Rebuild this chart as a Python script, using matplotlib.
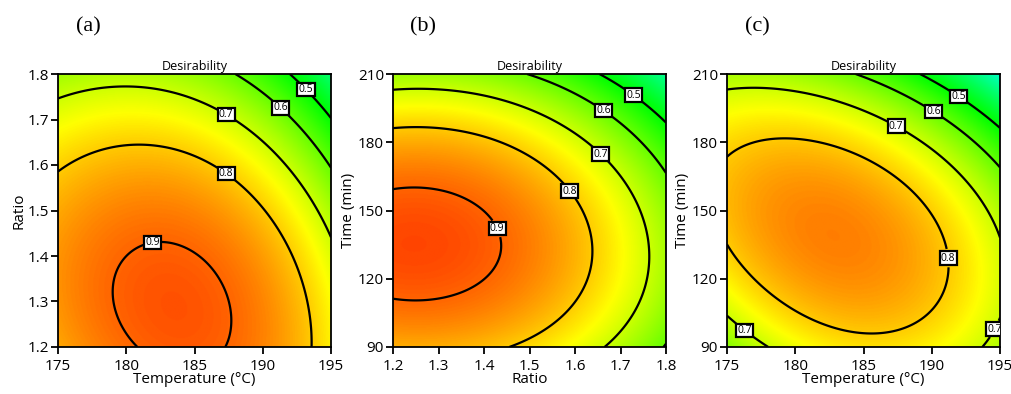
import numpy as np
import matplotlib
matplotlib.use("Agg")
import matplotlib.pyplot as plt
from matplotlib.colors import LinearSegmentedColormap

# ---- data ----
temp_range = (175, 195)
ratio_range = (1.2, 1.8)
time_range = (90, 210)

temp_ticks = [175, 180, 185, 190, 195]
ratio_ticks = [1.2, 1.3, 1.4, 1.5, 1.6, 1.7, 1.8]
time_ticks = [90, 120, 150, 180, 210]

levels = [0.5, 0.6, 0.7, 0.8, 0.9]

# cubic response-surface coefficients (coded units, -1..1)
# order: 1, u, v, uv, u^2, v^2, u^2 v, u v^2, u^3, v^3
coef_a = [0.8674, -0.0656, -0.1331, -0.0477, -0.1174, -0.0894, -0.0049, -0.0015, -0.0173, 0.0008]
coef_b = [0.8643, -0.1332, -0.0925, -0.0146, -0.0830, -0.1731, -0.0093, 0.0058, -0.0035, -0.0012]
coef_c = [0.8599, -0.0693, -0.0848, -0.0991, -0.1151, -0.1762, 0.0114, -0.0063, -0.0026, -0.0086]

# contour label positions
labels_a = [(193.3, 1.77), (191.3, 1.725), (187.4, 1.715), (187.3, 1.58), (181.8, 1.45)]
labels_b = [(1.732, 201.7), (1.666, 194.8), (1.659, 175.3), (1.591, 158.9), (1.434, 142.6)]
labels_c = [(192.0, 200.2), (190.2, 194.3), (187.5, 188.4), (191.05, 129.0), (176.5, 98.9), (194.3, 98.9)]

panels = [
    dict(tag="(a)", xr=temp_range, yr=ratio_range, xt=temp_ticks, yt=ratio_ticks,
         xl="Temperature (°C)", yl="Ratio", coef=coef_a, lab=labels_a),
    dict(tag="(b)", xr=ratio_range, yr=time_range, xt=ratio_ticks, yt=time_ticks,
         xl="Ratio", yl="Time (min)", coef=coef_b, lab=labels_b),
    dict(tag="(c)", xr=temp_range, yr=time_range, xt=temp_ticks, yt=time_ticks,
         xl="Temperature (°C)", yl="Time (min)", coef=coef_c, lab=labels_c),
]

# ---- drawing ----
plt.rcParams['font.family'] = ['Open Sans', 'DejaVu Sans']

def code(v, r):
    return (np.asarray(v) - (r[0] + r[1]) / 2) / ((r[1] - r[0]) / 2)

def basis(u, v):
    return np.stack([np.ones_like(u), u, v, u * v, u * u, v * v, u * u * v, u * v * v, u ** 3, v ** 3], -1)

cmap = LinearSegmentedColormap.from_list(
    "desir", [(0, '#0000ff'), (0.25, '#00ffff'), (0.5, '#00ff00'), (0.75, '#ffff00'), (1, '#ff0000')])

fig = plt.figure(figsize=(10.11, 3.94), dpi=100)
lefts = [58, 393, 727]
tag_x = [88, 423, 757]

for i, p in enumerate(panels):
    ax = fig.add_axes([lefts[i] / 1011, 47 / 394, 273 / 1011, 273 / 394])
    xr, yr = p["xr"], p["yr"]
    xs = np.linspace(*xr, 400)
    ys = np.linspace(*yr, 400)
    X, Y = np.meshgrid(xs, ys)
    Z = basis(code(X, xr), code(Y, yr)) @ np.array(p["coef"])
    ax.imshow(Z, extent=[*xr, *yr], origin='lower', aspect='auto', cmap=cmap,
              vmin=0, vmax=1, interpolation='bilinear')
    cs = ax.contour(X, Y, Z, levels=levels, colors='k', linewidths=1.6)
    texts = ax.clabel(cs, manual=p["lab"], inline=True, fmt='%.1f', fontsize=7.5, inline_spacing=2)
    for t in texts:
        t.set_bbox(dict(boxstyle='square,pad=0.12', fc='white', ec='black', lw=1.6))
        t.set_rotation(0)
    ax.set_xlim(*xr)
    ax.set_ylim(*yr)
    ax.set_xticks(p["xt"])
    ax.set_yticks(p["yt"])
    ax.set_xticklabels([f"{v:g}" for v in p["xt"]])
    ax.set_yticklabels([f"{v:g}" for v in p["yt"]])
    ax.tick_params(axis='both', direction='out', length=5, width=1.3, labelsize=11, color='black')
    ax.tick_params(axis='x', pad=3.5)
    ax.tick_params(axis='y', pad=1.5)
    for s in ax.spines.values():
        s.set_linewidth(1.3)
    ax.set_xlabel(p["xl"], fontsize=11, labelpad=-1)
    ax.set_ylabel(p["yl"], fontsize=11, labelpad=1)
    ax.set_title("Desirability", fontsize=9, pad=3)
    fig.text(tag_x[i] / 1011, 1 - 27 / 394, p["tag"], family='Liberation Serif', fontsize=16,
             ha='center', va='center')

fig.savefig("out.png")
